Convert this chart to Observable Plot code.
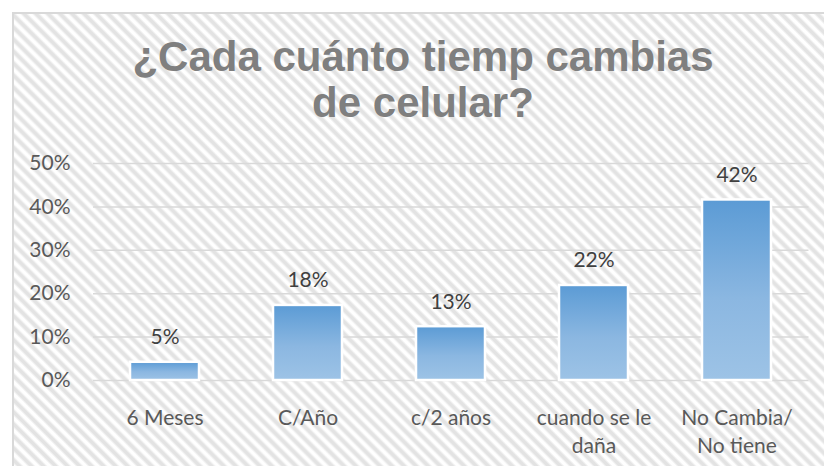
<!DOCTYPE html>
<html><head><meta charset="utf-8">
<script src="https://cdn.jsdelivr.net/npm/d3@7"></script>
<script src="https://cdn.jsdelivr.net/npm/@observablehq/plot@0.6"></script>
<style>
body{margin:0;background:#fff;}
#wrap{position:relative;width:824px;height:466px;overflow:hidden;background:#fff;}
#frame{position:absolute;left:12px;top:12px;width:830px;height:470px;border:2px solid #d9d9d9;box-sizing:border-box;
 background:repeating-linear-gradient(45deg,#ffffff 0px,#ffffff 2px,#e3e3e3 4.2px,#e3e3e3 6.3px,#ffffff 8.5px);}
#title{position:absolute;left:0;top:34px;width:846px;text-align:center;font-weight:bold;font-size:42px;font-family:"Liberation Sans",Arial,sans-serif;line-height:46px;color:#7f7f7f;}
#chart{position:absolute;left:0;top:140px;}
</style></head>
<body>
<div id="wrap">
 <div id="frame"></div>
 <div id="title">¿Cada cuánto tiemp cambias<br>de celular?</div>
 <div id="chart"></div>
</div>
<script>
const categories = ["6 Meses", "C/Año", "c/2 años", "cuando se le\ndaña", "No Cambia/\nNo tiene"];
const values = [0.042, 0.173, 0.124, 0.219, 0.416];
const valueLabels = ["5%", "18%", "13%", "22%", "42%"];
const yTicks = [0, 0.1, 0.2, 0.3, 0.4, 0.5];

const data = categories.map((c, i) => ({cat: c, value: values[i], label: valueLabels[i]}));

const plot = Plot.plot({
  width: 824,
  height: 326,
  marginTop: 23,
  marginBottom: 86,
  marginLeft: 93,
  marginRight: 15.5,
  style: {background: "transparent", fontFamily: "Lato, sans-serif"},
  x: {domain: categories, paddingInner: 0.52, paddingOuter: 0.26},
  y: {domain: [0, 0.5]},
  marks: [
    Plot.ruleY(yTicks, {stroke: "#d9d9d9", strokeWidth: 1.5}),
    Plot.axisY(yTicks, {tickSize: 0, tickPadding: 23, tickFormat: d => Math.round(d * 100) + "%", fontSize: 21, color: "#595959", label: null}),
    Plot.axisX({tickSize: 0, tickPadding: 25, fontSize: 21, color: "#595959", lineHeight: 1.33, label: null}),
    Plot.barY(data, {x: "cat", y: "value", fill: "url(#barGrad)", stroke: "white", strokeWidth: 2.5}),
    Plot.text(data, {x: "cat", y: "value", text: "label", dy: -18, lineAnchor: "bottom", fontSize: 21, fill: "#404040"})
  ]
});

d3.select(plot).insert("defs", ":first-child").html(
  '<linearGradient id="barGrad" x1="0" y1="0" x2="0" y2="1">' +
  '<stop offset="0" stop-color="#5b9bd5"/>' +
  '<stop offset="0.55" stop-color="#8bb7e1"/>' +
  '<stop offset="1" stop-color="#9dc3e6"/>' +
  '</linearGradient>');

document.getElementById("chart").appendChild(plot);
</script>
</body></html>
